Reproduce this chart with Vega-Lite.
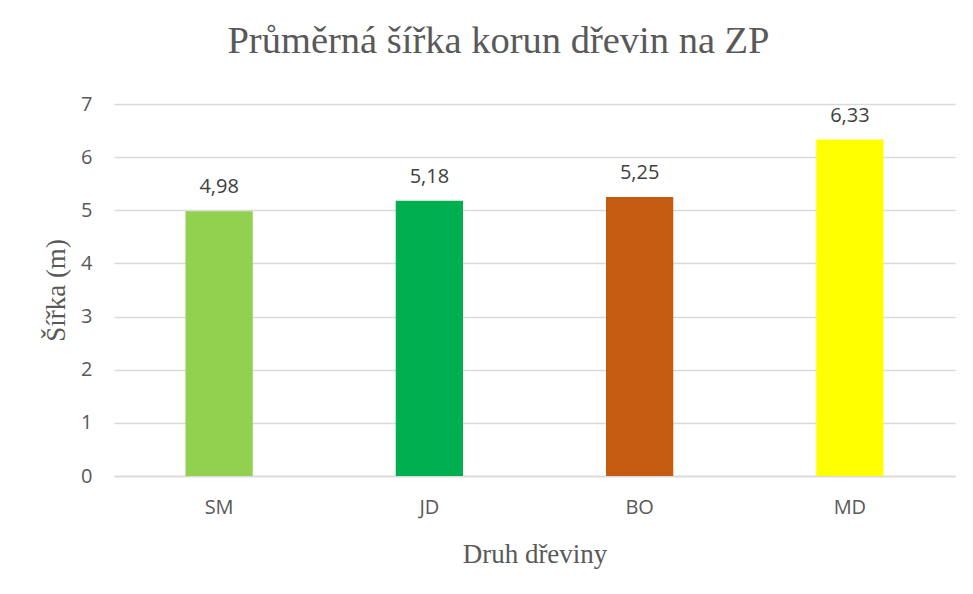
{
  "$schema": "https://vega.github.io/schema/vega-lite/v6.json",
  "width": 841,
  "height": 372,
  "autosize": {"type": "none"},
  "padding": {"left": 114, "top": 104, "right": 18, "bottom": 118},
  "background": "white",
  "config": {
    "locale": {"number": {"decimal": ",", "thousands": " ", "grouping": [3], "currency": ["", " Kč"]}},
    "view": {"stroke": null},
    "font": "Open Sans"
  },
  "title": {
    "text": "Průměrná šířka korun dřevin na ZP",
    "font": "Liberation Serif",
    "fontSize": 38.5,
    "fontWeight": "normal",
    "color": "#595959",
    "anchor": "middle",
    "dx": -36,
    "offset": 33
  },
  "data": {
    "values": [
      {"druh": "SM", "sirka": 4.98},
      {"druh": "JD", "sirka": 5.18},
      {"druh": "BO", "sirka": 5.25},
      {"druh": "MD", "sirka": 6.33}
    ]
  },
  "encoding": {
    "x": {
      "field": "druh",
      "type": "nominal",
      "sort": null,
      "scale": {"paddingInner": 0.68, "paddingOuter": 0.34},
      "axis": {
        "title": "Druh dřeviny",
        "titleFont": "Liberation Serif",
        "titleFontSize": 27,
        "titleFontWeight": "normal",
        "titleColor": "#595959",
        "titlePadding": 24,
        "labelFont": "Open Sans",
        "labelFontSize": 20,
        "labelColor": "#595959",
        "labelAngle": 0,
        "labelPadding": 21,
        "ticks": false,
        "domain": true,
        "domainColor": "#D9D9D9",
        "domainWidth": 1.5
      }
    },
    "y": {
      "field": "sirka",
      "type": "quantitative",
      "scale": {"domain": [0, 7], "nice": false},
      "axis": {
        "title": "Šířka (m)",
        "titleFont": "Liberation Serif",
        "titleFontSize": 27,
        "titleFontWeight": "normal",
        "titleColor": "#595959",
        "titlePadding": 10,
        "labelFont": "Open Sans",
        "labelFontSize": 20,
        "labelColor": "#595959",
        "labelPadding": 22,
        "labelOverlap": false,
        "values": [0, 1, 2, 3, 4, 5, 6, 7],
        "ticks": false,
        "domain": false,
        "grid": true,
        "gridColor": "#D9D9D9",
        "gridWidth": 1.5
      }
    }
  },
  "layer": [
    {
      "mark": {"type": "bar"},
      "encoding": {
        "color": {
          "field": "druh",
          "type": "nominal",
          "scale": {"domain": ["SM", "JD", "BO", "MD"], "range": ["#92D050", "#00B050", "#C55A11", "#FFFF00"]},
          "legend": null
        }
      }
    },
    {
      "mark": {"type": "text", "baseline": "bottom", "dy": -14, "fontSize": 20, "font": "Open Sans", "color": "#404040"},
      "encoding": {
        "text": {"field": "sirka", "type": "quantitative", "format": ".2f"}
      }
    }
  ]
}
